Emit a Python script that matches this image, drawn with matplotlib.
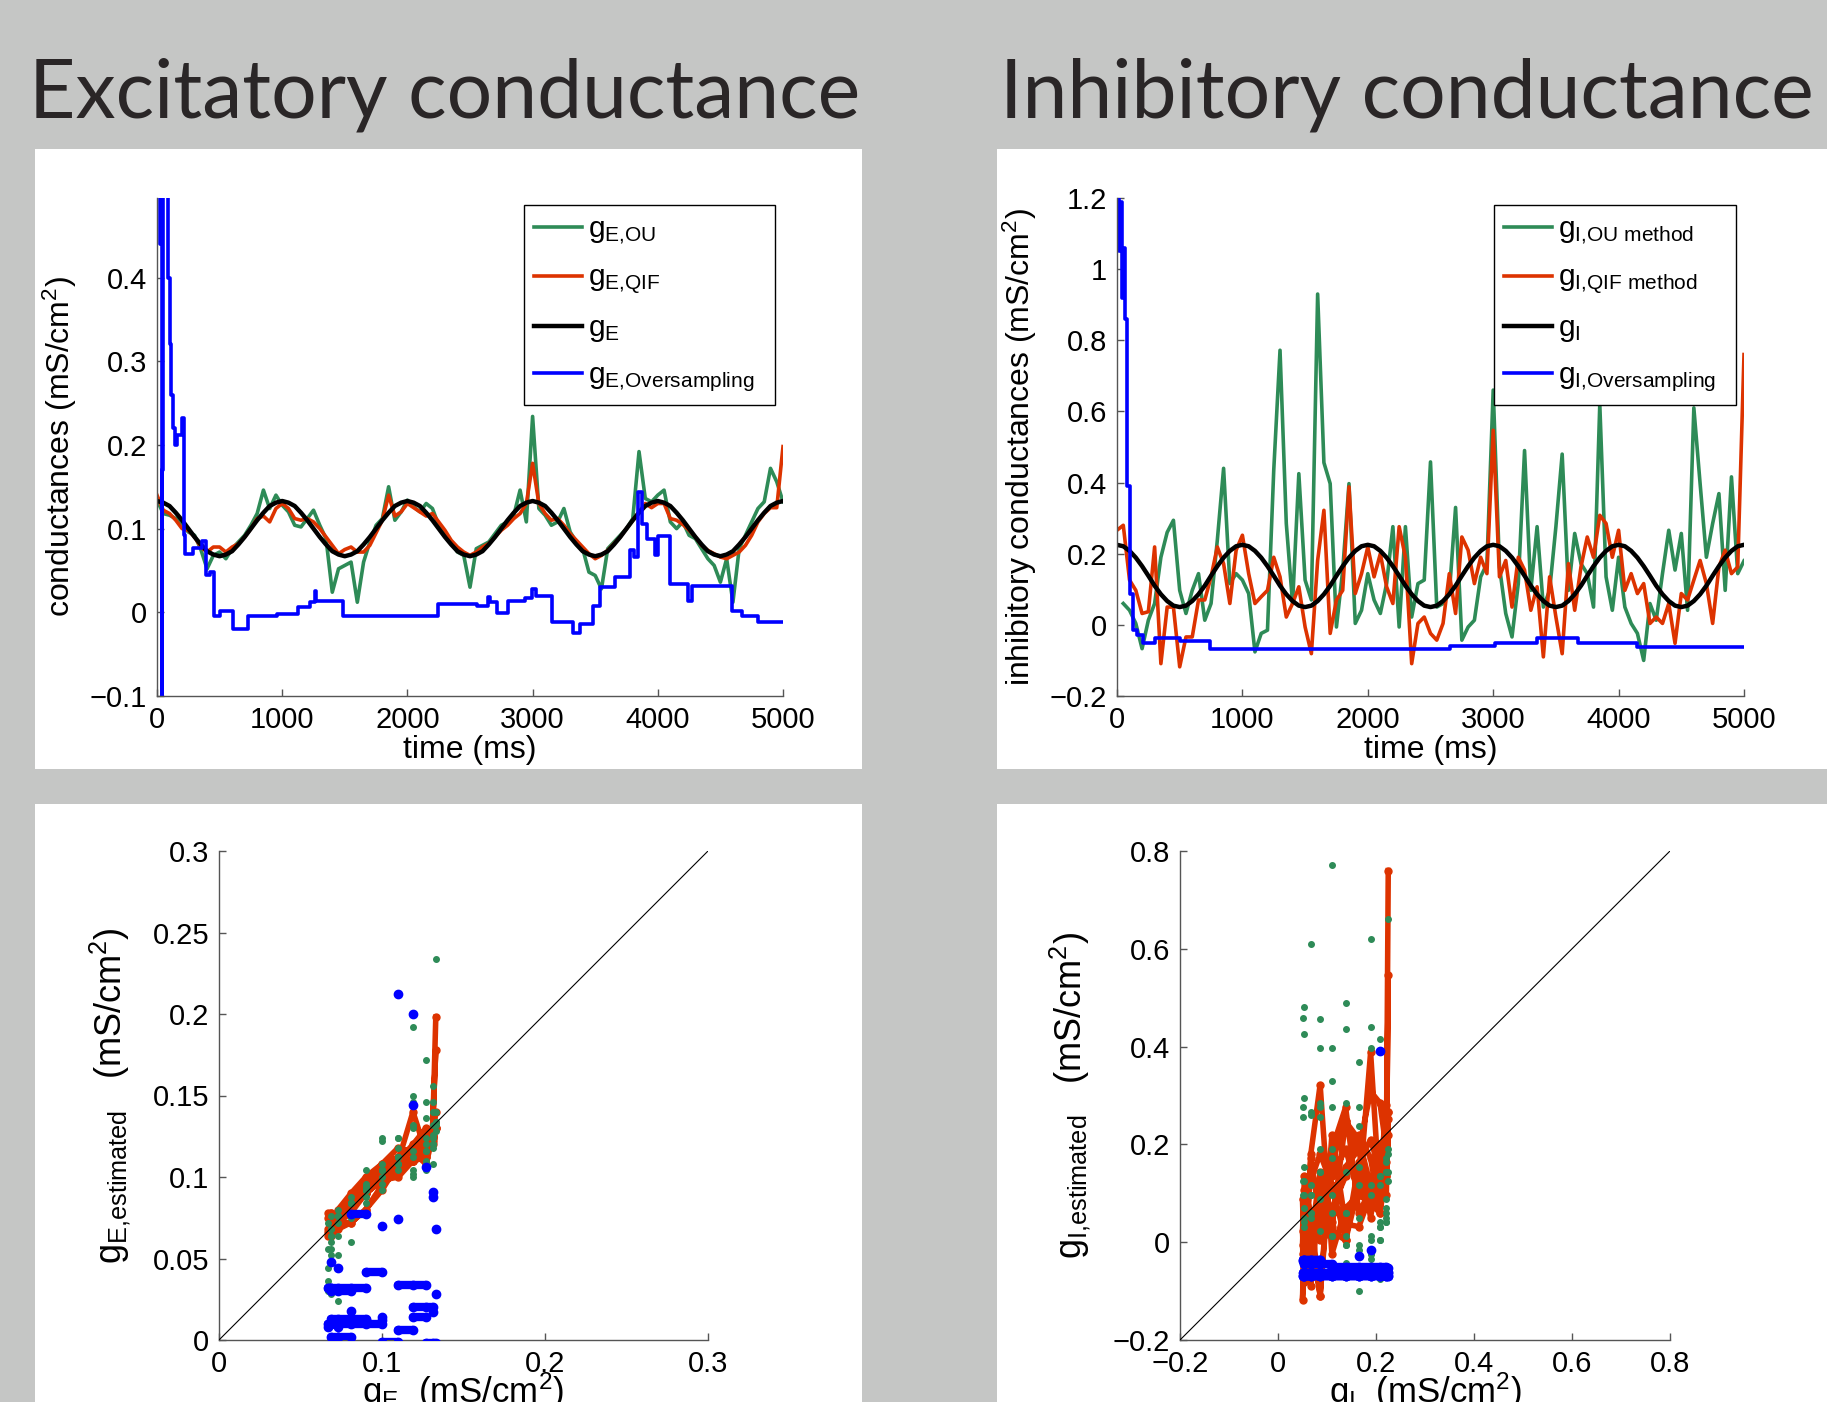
import numpy as np
import matplotlib
matplotlib.use('Agg')
from matplotlib import pyplot as plt
from matplotlib.patches import Rectangle
from matplotlib.ticker import FuncFormatter

plt.rcParams['font.family'] = ['Liberation Sans', 'DejaVu Sans']
plt.rcParams['mathtext.fontset'] = 'custom'
plt.rcParams['mathtext.rm'] = 'Liberation Sans'
plt.rcParams['mathtext.it'] = 'Liberation Sans:italic'
plt.rcParams['mathtext.default'] = 'regular'

GREEN = '#2e8b57'
RED = '#dd3300'
BLUE = '#0000ff'
AXC = '#555555'

# time grid (ms) of the sampled traces
t_ms = np.arange(0, 5001, 50)

# ---- excitatory conductance (mS/cm^2) ----
gE_true = [0.133, 0.131, 0.127, 0.119, 0.110, 0.100, 0.090, 0.081, 0.073, 0.069,
           0.067, 0.069, 0.073, 0.081, 0.090, 0.100, 0.110, 0.119, 0.127, 0.131,
           0.133, 0.131, 0.127, 0.119, 0.110, 0.100, 0.090, 0.081, 0.073, 0.069,
           0.067, 0.069, 0.073, 0.081, 0.090, 0.100, 0.110, 0.119, 0.127, 0.131,
           0.133, 0.131, 0.127, 0.119, 0.110, 0.100, 0.090, 0.081, 0.073, 0.069,
           0.067, 0.069, 0.073, 0.081, 0.090, 0.100, 0.110, 0.119, 0.127, 0.131,
           0.133, 0.131, 0.127, 0.119, 0.110, 0.100, 0.090, 0.081, 0.073, 0.069,
           0.067, 0.069, 0.073, 0.081, 0.090, 0.100, 0.110, 0.119, 0.127, 0.131,
           0.133, 0.131, 0.127, 0.119, 0.110, 0.100, 0.090, 0.081, 0.073, 0.069,
           0.067, 0.069, 0.073, 0.081, 0.090, 0.100, 0.110, 0.119, 0.127, 0.131,
           0.133]
gE_ou = [0.134, 0.118, 0.116, 0.112, 0.104, 0.096, 0.092, 0.075, 0.052, 0.068,
         0.072, 0.064, 0.076, 0.084, 0.092, 0.104, 0.118, 0.146, 0.124, 0.140,
         0.128, 0.120, 0.104, 0.102, 0.112, 0.122, 0.104, 0.088, 0.024, 0.052,
         0.056, 0.060, 0.012, 0.060, 0.084, 0.104, 0.112, 0.150, 0.110, 0.120,
         0.134, 0.126, 0.120, 0.130, 0.124, 0.104, 0.094, 0.084, 0.072, 0.068,
         0.030, 0.076, 0.080, 0.084, 0.094, 0.104, 0.108, 0.116, 0.146, 0.108,
         0.234, 0.124, 0.116, 0.104, 0.108, 0.124, 0.096, 0.084, 0.076, 0.048,
         0.044, 0.028, 0.076, 0.084, 0.092, 0.100, 0.112, 0.192, 0.136, 0.132,
         0.140, 0.146, 0.108, 0.100, 0.108, 0.092, 0.088, 0.076, 0.064, 0.056,
         0.036, 0.064, 0.012, 0.076, 0.092, 0.108, 0.124, 0.132, 0.172, 0.156,
         0.132]
gE_qif = [0.140, 0.122, 0.118, 0.110, 0.100, 0.098, 0.090, 0.078, 0.072, 0.078,
          0.078, 0.072, 0.078, 0.082, 0.090, 0.100, 0.112, 0.115, 0.108, 0.124,
          0.130, 0.124, 0.112, 0.110, 0.112, 0.108, 0.100, 0.090, 0.080, 0.070,
          0.075, 0.078, 0.072, 0.072, 0.080, 0.095, 0.110, 0.140, 0.115, 0.120,
          0.130, 0.125, 0.120, 0.115, 0.118, 0.108, 0.098, 0.086, 0.078, 0.072,
          0.068, 0.072, 0.078, 0.082, 0.090, 0.098, 0.104, 0.112, 0.118, 0.130,
          0.178, 0.130, 0.118, 0.110, 0.112, 0.104, 0.094, 0.086, 0.078, 0.070,
          0.064, 0.068, 0.074, 0.082, 0.090, 0.100, 0.110, 0.120, 0.130, 0.125,
          0.130, 0.130, 0.112, 0.110, 0.105, 0.098, 0.090, 0.080, 0.074, 0.070,
          0.066, 0.064, 0.068, 0.072, 0.080, 0.092, 0.108, 0.118, 0.125, 0.125,
          0.198]
# oversampling estimate: step start times (ms) and values
gE_os_t = [0, 20, 30, 37, 42, 50, 90, 105, 115, 125, 140, 157, 202, 215, 223, 290,
           356, 390, 420, 457, 503, 609, 729, 955, 1128, 1221, 1258, 1270, 1487,
           2247, 2553, 2646, 2660, 2712, 2805, 2940, 2992, 3026, 3152, 3325, 3380,
           3485, 3539, 3658, 3778, 3810, 3845, 3871, 3911, 3978, 4005, 4098, 4244,
           4270, 4590, 4670, 4803]
gE_os_v = [0.52, 0.44, 0.52, -0.12, 0.17, 0.52, 0.40, 0.32, 0.26, 0.22, 0.20, 0.212,
           0.232, 0.092, 0.070, 0.077, 0.085, 0.044, 0.048, -0.004, 0.002, -0.020,
           -0.004, -0.002, 0.006, 0.012, 0.026, 0.013, -0.004, 0.010, 0.008, 0.018,
           0.012, -0.001, 0.014, 0.017, 0.028, 0.020, -0.011, -0.025, -0.014, 0.008,
           0.030, 0.042, 0.074, 0.066, 0.144, 0.106, 0.088, 0.068, 0.091, 0.034,
           0.014, 0.032, 0.002, -0.004, -0.012]

# ---- inhibitory conductance (mS/cm^2) ----
gI_true = [0.225, 0.221, 0.208, 0.189, 0.165, 0.138, 0.110, 0.086, 0.067, 0.054,
           0.050, 0.054, 0.067, 0.086, 0.110, 0.138, 0.165, 0.189, 0.208, 0.221,
           0.225, 0.221, 0.208, 0.189, 0.165, 0.138, 0.110, 0.086, 0.067, 0.054,
           0.050, 0.054, 0.067, 0.086, 0.110, 0.138, 0.165, 0.189, 0.208, 0.221,
           0.225, 0.221, 0.208, 0.189, 0.165, 0.138, 0.110, 0.086, 0.067, 0.054,
           0.050, 0.054, 0.067, 0.086, 0.110, 0.138, 0.165, 0.189, 0.208, 0.221,
           0.225, 0.221, 0.208, 0.189, 0.165, 0.138, 0.110, 0.086, 0.067, 0.054,
           0.050, 0.054, 0.067, 0.086, 0.110, 0.138, 0.165, 0.189, 0.208, 0.221,
           0.225, 0.221, 0.208, 0.189, 0.165, 0.138, 0.110, 0.086, 0.067, 0.054,
           0.050, 0.054, 0.067, 0.086, 0.110, 0.138, 0.165, 0.189, 0.208, 0.221,
           0.225]
gI_ou = [np.nan, 0.060, 0.041, 0.004, -0.067, 0.013, 0.060, 0.190, 0.260, 0.294,
         0.097, 0.032, 0.097, 0.144, 0.013, 0.060, 0.238, 0.440, 0.116, 0.144,
         0.126, 0.088, -0.076, -0.024, -0.015, 0.435, 0.772, 0.285, 0.060, 0.425,
         0.126, 0.070, 0.930, 0.456, 0.397, -0.006, 0.154, 0.397, 0.004, 0.041,
         0.144, 0.070, 0.032, 0.116, 0.276, -0.006, 0.276, 0.022, 0.116, 0.126,
         0.458, 0.050, 0.060, 0.088, 0.330, -0.043, -0.006, 0.013, 0.135, 0.172,
         0.660, 0.163, 0.032, -0.034, 0.116, 0.490, 0.097, 0.276, 0.050, 0.097,
         0.276, 0.480, 0.097, 0.257, 0.172, 0.144, 0.050, 0.620, 0.135, 0.041,
         0.190, 0.050, 0.004, -0.024, -0.100, 0.060, 0.013, 0.144, 0.266, 0.154,
         0.257, 0.041, 0.610, 0.397, 0.190, 0.285, 0.369, 0.097, 0.416, 0.144,
         0.180]
gI_qif = [0.266, 0.280, 0.126, 0.097, 0.032, 0.037, 0.219, -0.109, 0.050, 0.050,
          -0.118, -0.034, -0.034, 0.070, 0.070, 0.135, 0.219, 0.172, 0.060, 0.210,
          0.252, 0.144, 0.060, 0.079, 0.097, 0.190, 0.135, 0.022, 0.060, 0.107,
          -0.006, -0.081, 0.181, 0.322, -0.024, 0.070, 0.097, 0.388, 0.088, 0.144,
          0.219, 0.135, 0.200, 0.107, 0.060, 0.276, 0.190, -0.109, 0.004, 0.022,
          -0.024, -0.043, 0.004, 0.144, 0.032, 0.247, 0.210, 0.116, 0.190, 0.144,
          0.547, 0.135, 0.181, 0.050, 0.190, 0.154, 0.041, 0.107, -0.090, 0.135,
          0.022, -0.081, 0.172, 0.041, 0.163, 0.247, 0.190, 0.308, 0.285, 0.190,
          0.266, 0.097, 0.144, 0.088, 0.116, 0.004, 0.022, 0.004, 0.060, -0.052,
          0.088, 0.070, 0.126, 0.181, 0.116, 0.004, 0.163, 0.210, 0.144, 0.163,
          0.760]
gI_os_t = [0, 15, 30, 40, 50, 60, 77, 104, 125, 157, 210, 303, 503, 742, 981,
           2550, 2656, 3014, 3346, 3678, 4144]
gI_os_v = [1.20, 1.05, 1.19, 0.92, 1.06, 0.86, 0.39, 0.088, -0.015, -0.029, -0.052,
           -0.038, -0.045, -0.067, -0.069, -0.067, -0.060, -0.051, -0.037, -0.052,
           -0.062]


def mfmt(v, pos):
    v = round(v, 6) + 0.0
    return ('%g' % v).replace('-', '\u2212')


def style(ax):
    for s in ['top', 'right']:
        ax.spines[s].set_visible(False)
    for s in ['left', 'bottom']:
        ax.spines[s].set_color(AXC)
        ax.spines[s].set_linewidth(1)
    ax.tick_params(direction='in', length=5, width=1, color=AXC, labelsize=21, pad=7)
    ax.xaxis.set_major_formatter(FuncFormatter(mfmt))
    ax.yaxis.set_major_formatter(FuncFormatter(mfmt))


def step_at(ts, vs, tq):
    idx = np.searchsorted(ts, tq, side='right') - 1
    return np.asarray(vs)[idx]


def runs(x, y):
    cut = np.flatnonzero(np.diff(y) != 0) + 1
    return zip(np.split(x, cut), np.split(y, cut))


W, H = 1827, 1402
fig = plt.figure(figsize=(W / 100, H / 100), dpi=100)
fig.set_facecolor('#c5c6c5')


def box(x0, y0, x1, y1):
    fig.patches.append(Rectangle((x0 / W, 1 - y1 / H), (x1 - x0) / W, (y1 - y0) / H,
                                 transform=fig.transFigure, facecolor='white',
                                 edgecolor='none', zorder=-5))


def axes_px(x0, y0, x1, y1):
    return fig.add_axes([x0 / W, 1 - y1 / H, (x1 - x0) / W, (y1 - y0) / H], zorder=1)


box(35, 149, 862, 769)
box(997, 149, 1827, 769)
box(35, 804, 862, 1402)
box(997, 804, 1827, 1402)

tfont = dict(fontsize=58, family=['Lato', 'DejaVu Sans'], weight='normal', color='#2a2627')
fig.text(29 / W, 1 - 117 / H, 'Excitatory conductance', va='baseline', **tfont)
fig.text(1000 / W, 1 - 117 / H, 'Inhibitory conductance', va='baseline', **tfont)

# ---------- time courses ----------
panels = [
    dict(box=(157, 198, 783, 696), true=gE_true, ou=gE_ou, qif=gE_qif,
         os_t=gE_os_t, os_v=gE_os_v, ylim=(-0.1, 0.495),
         yticks=[-0.1, 0, 0.1, 0.2, 0.3, 0.4],
         ylabel='conductances (mS/cm$^2$)',
         labels=['$g_{E{,}OU}$', '$g_{E{,}QIF}$', '$g_E$', '$g_{E{,}Oversampling}$'],
         leg=(0.586, 0.986, 0.401)),
    dict(box=(1117, 198, 1744, 696), true=gI_true, ou=gI_ou, qif=gI_qif,
         os_t=gI_os_t, os_v=gI_os_v, ylim=(-0.2, 1.2),
         yticks=[-0.2, 0, 0.2, 0.4, 0.6, 0.8, 1, 1.2],
         ylabel='inhibitory conductances (mS/cm$^2$)',
         labels=['$g_{I{,}OU\\ method}$', '$g_{I{,}QIF\\ method}$', '$g_I$',
                 '$g_{I{,}Oversampling}$'],
         leg=(0.601, 0.986, 0.386)),
]

for p in panels:
    ax = axes_px(*p['box'])
    style(ax)
    l1, = ax.plot(t_ms, p['ou'], color=GREEN, lw=2.6)
    l2, = ax.plot(t_ms, p['qif'], color=RED, lw=2.6)
    l3, = ax.plot(t_ms, p['true'], color='black', lw=3.2)
    ts = np.append(p['os_t'], 5000)
    vs = np.append(p['os_v'], p['os_v'][-1])
    l4, = ax.step(ts, vs, where='post', color=BLUE, lw=2.6)
    ax.set_xlim(0, 5000)
    ax.set_ylim(*p['ylim'])
    ax.set_xticks([0, 1000, 2000, 3000, 4000, 5000])
    ax.set_yticks(p['yticks'])
    ax.set_xlabel('time (ms)', fontsize=23, labelpad=1)
    ax.set_ylabel(p['ylabel'], fontsize=23, labelpad=8)
    lx, ly, lw_ = p['leg']
    leg = ax.legend([l1, l2, l3, l4], p['labels'], loc='upper left',
                    bbox_to_anchor=(lx, ly, lw_, 0), mode='expand', fontsize=21.5,
                    frameon=True, fancybox=False, framealpha=1, edgecolor='black',
                    handlelength=1.6, handletextpad=0.2, labelspacing=0.58,
                    borderpad=0.35, borderaxespad=0)
    leg.get_frame().set_linewidth(1.0)

# ---------- estimated vs true ----------
scat = [
    dict(box=(219, 851, 708, 1340), true=gE_true, ou=gE_ou, qif=gE_qif,
         os_t=gE_os_t, os_v=gE_os_v, lim=(0, 0.3),
         xticks=[0, 0.1, 0.2, 0.3], yticks=[0, 0.05, 0.1, 0.15, 0.2, 0.25, 0.3],
         ylabel='$g_{E{,}estimated}$   (mS/cm$^2$)', xlabel='$g_E$  (mS/cm$^2$)'),
    dict(box=(1180, 851, 1670, 1340), true=gI_true, ou=gI_ou, qif=gI_qif,
         os_t=gI_os_t, os_v=gI_os_v, lim=(-0.2, 0.8),
         xticks=[-0.2, 0, 0.2, 0.4, 0.6, 0.8], yticks=[-0.2, 0, 0.2, 0.4, 0.6, 0.8],
         ylabel='$g_{I{,}estimated}$   (mS/cm$^2$)', xlabel='$g_I$  (mS/cm$^2$)'),
]

for p in scat:
    ax = axes_px(*p['box'])
    style(ax)
    x = np.asarray(p['true'])
    ax.plot(x, p['qif'], '-', color=RED, lw=4, marker='o', ms=5, mec=RED, zorder=2)
    ax.plot(x, p['ou'], 'o', color=GREEN, ms=4, mec=GREEN, zorder=3)
    os_grid = step_at(p['os_t'], p['os_v'], t_ms)
    for xr, yr in runs(x, os_grid):
        ax.plot(xr, yr, '-', color=BLUE, lw=6, marker='o', ms=6, mec=BLUE,
                solid_capstyle='round', zorder=4)
    ax.plot(p['lim'], p['lim'], color='black', lw=0.8, zorder=5)
    ax.set_xlim(*p['lim'])
    ax.set_ylim(*p['lim'])
    ax.set_xticks(p['xticks'])
    ax.set_yticks(p['yticks'])
    ax.set_ylabel(p['ylabel'], fontsize=26, labelpad=14)
    ax.set_xlabel(p['xlabel'], fontsize=25)
    ax.xaxis.set_label_coords(0.5, -0.062)

fig.savefig('out.png', dpi=100, facecolor=fig.get_facecolor())
